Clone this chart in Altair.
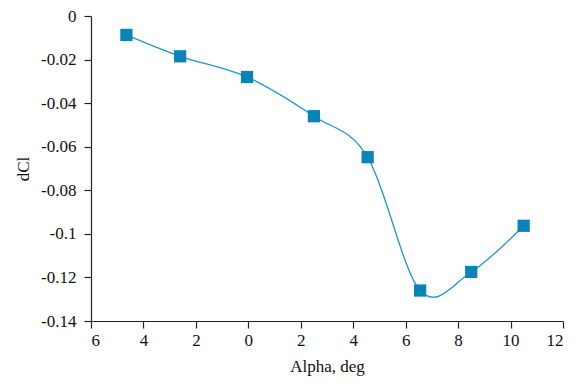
import altair as alt
import pandas as pd

alpha = [-4.65, -2.6, -0.05, 2.5, 4.55, 6.55, 8.5, 10.5]
dcl = [-0.0087, -0.0185, -0.028, -0.046, -0.0648, -0.126, -0.1175, -0.0963]

df = pd.DataFrame({"alpha": alpha, "dcl": dcl})

FONT = "Liberation Serif"

x = alt.X("alpha:Q", title="Alpha, deg",
          scale=alt.Scale(domain=[-6, 12], nice=False, zero=False),
          axis=alt.Axis(values=list(range(-6, 13, 2)),
                        labelExpr="format(abs(datum.value), 'd')",
                        grid=False, tickSize=7, labelPadding=4,
                        titlePadding=10))
y = alt.Y("dcl:Q", title="dCl",
          scale=alt.Scale(domain=[-0.14, 0], nice=False),
          axis=alt.Axis(values=[0, -0.02, -0.04, -0.06, -0.08, -0.1, -0.12, -0.14],
                        labelExpr="datum.value == 0 ? '0' : '-' + format(abs(datum.value), '~g')",
                        grid=False, tickSize=7, labelPadding=8,
                        titlePadding=8))

line = alt.Chart(df).mark_line(interpolate="cardinal", tension=0, color="#1e96d0",
                               strokeWidth=1.3).encode(x=x, y=y)
pts = alt.Chart(df).mark_square(size=150, color="#0a84b8", opacity=1,
                                filled=True).encode(x=x, y=y)

chart = (line + pts).properties(
    width=472, height=305,
    autosize=alt.AutoSizeParams(type="none"),
    padding={"left": 91, "top": 16, "right": 13, "bottom": 67},
).configure_view(stroke=None).configure_axis(
    labelFont=FONT, titleFont=FONT, labelFontSize=17, titleFontSize=17,
    titleFontWeight="normal", labelColor="#111", titleColor="#111",
    domainColor="#222", tickColor="#222", domainWidth=1.2, tickWidth=1.2,
)

chart.save("out.html", embed_options={"renderer": "svg", "actions": False})
